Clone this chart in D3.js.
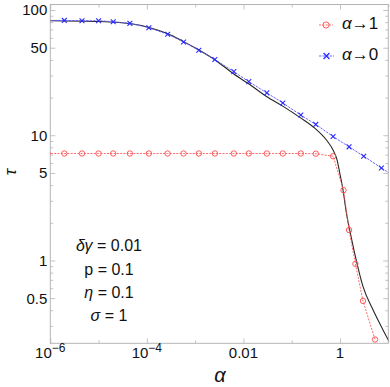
<!DOCTYPE html>
<html><head><meta charset="utf-8">
<script src="https://cdn.jsdelivr.net/npm/d3@7"></script>
<style>
html,body{margin:0;padding:0;background:#fff}
svg{display:block}
text{font-family:"Liberation Sans",Arial,Helvetica,sans-serif;fill:#111}
</style></head><body>
<svg id="chart" width="390" height="387"></svg>
<script>
// ---------- data ----------
const xDomain = [1e-6, 10];
const yDomain = [0.218, 110.7];
const xMajorTicks = [1e-6, 1e-4, 1e-2, 1];
const xMajorLabels = [["10","\u22126"],["10","\u22124"],["0.01",""],["1",""]];
const xMinorTicks = [1e-5, 1e-3, 0.1, 10];
const yMajorTicks = [0.5, 1, 5, 10, 50, 100];
const yMajorLabels = ["0.5", "1", "5", "10", "50", "100"];
const yMinorTicks = [0.3,0.4,0.6,0.7,0.8,0.9,2,3,4,6,7,8,9,20,30,40,60,70,80,90];

// alpha -> 1 approximation (red, open circles)
const redAlpha = [8.8e-7,1.95e-6,4.53e-6,1.0e-5,2.01e-5,4.45e-5,1.10e-4,2.69e-4,5.75e-4,1.19e-3,2.56e-3,6.32e-3,1.29e-2,3.05e-2,6.53e-2,0.154,0.315,0.718,1.18,1.54,2.08,2.99,5.31];
const redTau   = [7.15,7.15,7.15,7.15,7.15,7.15,7.15,7.15,7.15,7.15,7.15,7.15,7.15,7.15,7.15,7.15,7.12,6.8,3.64,1.75,0.94,0.475,0.234];

// alpha -> 0 approximation (blue, crosses)
const blueAlpha = [8.8e-7,1.95e-6,4.53e-6,1.0e-5,2.01e-5,4.45e-5,1.10e-4,2.69e-4,5.75e-4,1.19e-3,2.56e-3,6.32e-3,1.29e-2,3.05e-2,6.53e-2,0.154,0.315,0.718,1.54,3.10,7.19,15.7];
const blueTau   = [82.6,82.6,82.2,82.2,80.7,78.3,72.2,64.0,55.6,47.7,40.3,32.2,26.8,21.8,18.1,14.5,12.2,9.77,8.08,6.8,5.48,4.52];

// exact solution (black solid curve)
const exactAlpha = [1e-6,1.07e-5,5.14e-5,1.16e-4,2.56e-4,5.65e-4,1.25e-3,2.77e-3,6.11e-3,1.35e-2,3.0e-2,6.63e-2,0.147,0.300,0.524,0.718,0.868,0.987,1.153,1.355,1.72,2.19,2.99,4.82,7.76,10.2];
const exactTau   = [82.2,80.9,77.3,72.3,65.2,56.2,47.5,39.2,31.1,25.4,20.4,17.0,13.9,11.4,9.16,7.63,6.36,5.01,3.66,2.40,1.51,0.99,0.62,0.404,0.279,0.228];

const seriesNames = ["\u03b1\u21921", "\u03b1\u21920"];
const paramLines = [["\u03b4\u03b3", " = 0.01"], ["p", " = 0.1"], ["\u03b7", " = 0.1"], ["\u03c3", " = 1"]];

// ---------- layout ----------
const L = 50.3, R = 388.3, T = 4.5, B = 343.3;
const svg = d3.select("#chart");
const x = d3.scaleLog().domain(xDomain).range([L, R]);
const y = d3.scaleLog().domain(yDomain).range([B, T]);

const frameColor = "#b4b4b4";

svg.append("defs").append("clipPath").attr("id","clip")
  .append("rect").attr("x",L).attr("y",T).attr("width",R-L).attr("height",B-T);

function styleAxis(g){
  g.select(".domain").remove();
  g.selectAll(".tick line").attr("stroke", frameColor).attr("stroke-width",0.8);
  g.selectAll(".tick text").remove();
}
svg.append("g").attr("transform",`translate(0,${B})`).call(d3.axisBottom(x).tickValues(xMajorTicks).tickSize(-5).tickFormat("")).call(styleAxis);
svg.append("g").attr("transform",`translate(0,${B})`).call(d3.axisBottom(x).tickValues(xMinorTicks).tickSize(-3).tickFormat("")).call(styleAxis);
svg.append("g").attr("transform",`translate(0,${T})`).call(d3.axisTop(x).tickValues(xMajorTicks).tickSize(-5).tickFormat("")).call(styleAxis);
svg.append("g").attr("transform",`translate(0,${T})`).call(d3.axisTop(x).tickValues(xMinorTicks).tickSize(-3).tickFormat("")).call(styleAxis);
svg.append("g").attr("transform",`translate(${L},0)`).call(d3.axisLeft(y).tickValues(yMajorTicks).tickSize(-5).tickFormat("")).call(styleAxis);
svg.append("g").attr("transform",`translate(${L},0)`).call(d3.axisLeft(y).tickValues(yMinorTicks).tickSize(-3).tickFormat("")).call(styleAxis);
svg.append("g").attr("transform",`translate(${R},0)`).call(d3.axisRight(y).tickValues(yMajorTicks).tickSize(-5).tickFormat("")).call(styleAxis);
svg.append("g").attr("transform",`translate(${R},0)`).call(d3.axisRight(y).tickValues(yMinorTicks).tickSize(-3).tickFormat("")).call(styleAxis);

svg.append("rect").attr("x",L).attr("y",T).attr("width",R-L).attr("height",B-T)
  .attr("fill","none").attr("stroke",frameColor).attr("stroke-width",1);

// tick labels
const xl = svg.append("g").attr("font-size",15);
xMajorTicks.forEach((v,i)=>{
  const t = xl.append("text").attr("x", x(v)).attr("y", B+15).attr("text-anchor","middle");
  t.append("tspan").text(xMajorLabels[i][0]);
  if (xMajorLabels[i][1]) t.append("tspan").attr("dy",-6).attr("font-size",12).text(xMajorLabels[i][1]);
});
const yl = svg.append("g").attr("font-size",15);
yMajorTicks.forEach((v,i)=>{
  yl.append("text").attr("x", L-3).attr("y", y(v)).attr("dy","0.36em").attr("text-anchor","end").text(yMajorLabels[i]);
});

// axis titles
svg.append("text").attr("x",220).attr("y",382).attr("text-anchor","middle")
  .attr("font-size",20).attr("font-style","italic").text("\u03b1");
svg.append("text").attr("transform","translate(16,172) rotate(-90)").attr("text-anchor","middle")
  .attr("font-size",17).attr("font-style","italic").text("\u03c4");

// plot contents
const plot = svg.append("g").attr("clip-path","url(#clip)");

const redData = redAlpha.map((a,i)=>[a,redTau[i]]);
const blueData = blueAlpha.map((a,i)=>[a,blueTau[i]]);
const exactData = exactAlpha.map((a,i)=>[a,exactTau[i]]);

const redColor = "#ff4a4a", blueColor = "#2a2aff";

plot.append("path").attr("d", d3.line().x(d=>x(d[0])).y(d=>y(d[1])).curve(d3.curveMonotoneX)(exactData))
  .attr("fill","none").attr("stroke","#262626").attr("stroke-width",1.1);

plot.append("path").attr("d", d3.line().x(d=>x(d[0])).y(d=>y(d[1]))(blueData))
  .attr("fill","none").attr("stroke","#5a5aff").attr("stroke-width",0.9).attr("stroke-dasharray","2.5,1");
plot.append("path").attr("d", d3.line().x(d=>x(d[0])).y(d=>y(d[1]))(redData))
  .attr("fill","none").attr("stroke","#ff5a5a").attr("stroke-width",0.9).attr("stroke-dasharray","2,1.3");

const xSym = d3.symbol(d3.symbolX, 17);
plot.selectAll(".bm").data(blueData).join("path").attr("class","bm")
  .attr("transform",d=>`translate(${x(d[0])},${y(d[1])})`).attr("d",xSym)
  .attr("fill","none").attr("stroke",blueColor).attr("stroke-width",1.1);
plot.selectAll(".rm").data(redData).join("circle").attr("class","rm")
  .attr("cx",d=>x(d[0])).attr("cy",d=>y(d[1])).attr("r",2.7)
  .attr("fill","none").attr("stroke",redColor).attr("stroke-width",0.9);

// legend
const leg = svg.append("g");
const legY = [25, 56];
leg.append("line").attr("x1",319).attr("x2",333).attr("y1",legY[0]).attr("y2",legY[0])
  .attr("stroke","#ff5a5a").attr("stroke-width",0.9).attr("stroke-dasharray","2,1.3");
leg.append("circle").attr("cx",326).attr("cy",legY[0]).attr("r",3.1).attr("fill","none").attr("stroke",redColor).attr("stroke-width",0.9);
leg.append("line").attr("x1",319).attr("x2",334).attr("y1",legY[1]).attr("y2",legY[1])
  .attr("stroke","#5a5aff").attr("stroke-width",0.9).attr("stroke-dasharray","2.5,1");
leg.append("path").attr("transform",`translate(326.5,${legY[1]})`).attr("d",d3.symbol(d3.symbolX,24))
  .attr("fill","none").attr("stroke",blueColor).attr("stroke-width",1.3);
seriesNames.forEach((s,i)=>{
  const t = leg.append("text").attr("x",342).attr("y",legY[i]-2).attr("dy","0.36em").attr("font-size",17);
  t.append("tspan").attr("font-style","italic").text(s[0]);
  t.append("tspan").text(s.slice(1));
});

// parameter annotations
const pa = svg.append("g").attr("font-size",16);
const paY = [245, 269, 292, 315];
paramLines.forEach((p,i)=>{
  const t = pa.append("text").attr("x",109).attr("y",paY[i]).attr("dy","0.36em").attr("text-anchor","middle");
  t.append("tspan").attr("font-style", p[0]==="p" ? "normal" : "italic").text(p[0]);
  t.append("tspan").text(p[1]);
});
</script>
</body></html>
